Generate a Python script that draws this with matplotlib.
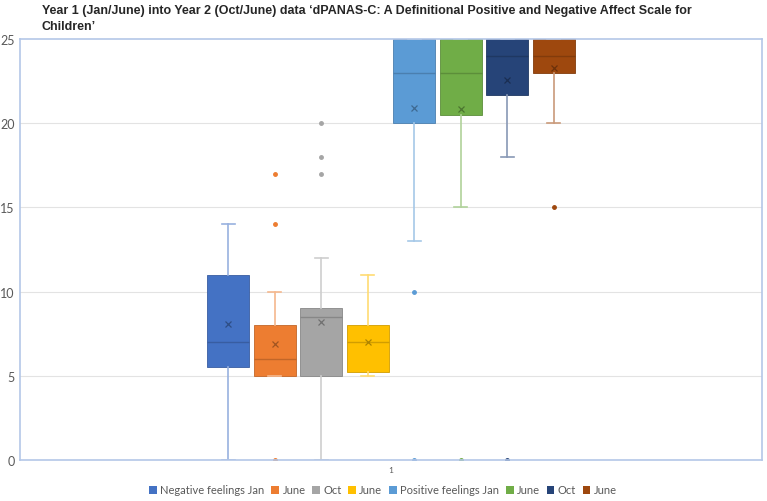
import matplotlib
matplotlib.use("Agg")
import matplotlib.pyplot as plt
from matplotlib.patches import Patch
import matplotlib.colors as mcolors

# ---- data ----
series = ["Negative feelings Jan", "June", "Oct", "June",
          "Positive feelings Jan", "June", "Oct", "June"]
colors = ["#4472C4", "#ED7D31", "#A5A5A5", "#FFC000",
          "#5B9BD5", "#70AD47", "#264478", "#9E480E"]
q1 = [5.5, 5.0, 5.0, 5.25, 20.0, 20.5, 21.7, 23.0]
med = [7.0, 6.0, 8.5, 7.0, 23.0, 23.0, 24.0, 24.0]
q3 = [11.0, 8.0, 9.0, 8.0, 25.0, 25.0, 25.0, 25.0]
whislo = [0.0, 5.0, 0.0, 5.0, 13.0, 15.0, 18.0, 20.0]
whishi = [14.0, 10.0, 12.0, 11.0, 25.0, 25.0, 25.0, 25.0]
means = [8.1, 6.9, 8.2, 7.0, 20.9, 20.85, 22.55, 23.25]
fliers = [[], [17, 14, 0], [20, 18, 17], [], [10, 0], [0], [0], [15]]
category = "1"
yticks = [0, 5, 10, 15, 20, 25]

W, H = 767, 502
fig = plt.figure(figsize=(W / 100, H / 100), dpi=100)
ax = fig.add_axes([20 / W, (H - 461) / H, 742 / W, 421 / H])

tick_font = "Lato"
gray = "#595959"

spacing = 46.5 / 742
bw = 42 / 742
n = len(series)
for i in range(n):
    pos = 1 + (i - (n - 1) / 2) * spacing
    c = colors[i]
    rgb = mcolors.to_rgb(c)
    light = tuple(1 - (1 - v) * 0.55 for v in rgb)
    dark = tuple(v * 0.82 for v in rgb)
    meanc = tuple(v * 0.68 for v in rgb)
    st = dict(q1=q1[i], med=med[i], q3=q3[i], whislo=whislo[i],
              whishi=whishi[i], mean=means[i], fliers=fliers[i], label=series[i])
    ax.bxp([st], positions=[pos], widths=bw, showmeans=True, patch_artist=True,
           capwidths=13 / 742,
           boxprops=dict(facecolor=c, edgecolor=dark, linewidth=0.6),
           medianprops=dict(color=dark, linewidth=1.0),
           whiskerprops=dict(color=light, linewidth=1.2),
           capprops=dict(color=light, linewidth=1.2),
           meanprops=dict(marker="x", markeredgecolor=meanc, markersize=5,
                          markeredgewidth=0.9),
           flierprops=dict(marker="o", markerfacecolor=c, markeredgecolor=c,
                           markersize=2.5))

ax.set_xlim(0.5, 1.5)
ax.set_ylim(0, 25)
ax.set_yticks(yticks)
ax.set_yticklabels([str(t) for t in yticks], fontsize=9, color=gray, family=tick_font)
ax.set_xticks([1])
ax.set_xticklabels([category], fontsize=6, color=gray, family=tick_font)
ax.tick_params(axis="both", length=0, pad=4)
for t in yticks[1:-1]:
    ax.axhline(t, color="#e3e3e3", linewidth=0.8, zorder=0)
for s in ax.spines.values():
    s.set_color("#b4c7e7")
    s.set_linewidth(1.2)

fig.text(42 / W, 1 - 5 / H,
         "Year 1 (Jan/June) into Year 2 (Oct/June) data \u2018dPANAS-C: A Definitional Positive and Negative Affect Scale for\nChildren\u2019",
         ha="left", va="top", fontsize=9, fontweight="bold", family="Liberation Sans",
         color="#262626", linespacing=1.5)

handles = [Patch(facecolor=c, edgecolor="none") for c in colors]
fig.legend(handles, series, loc="center", bbox_to_anchor=(383 / W, 1 - 491 / H),
           ncol=8, frameon=False, handlelength=0.7, handleheight=0.7,
           handletextpad=0.3, columnspacing=0.6, prop=dict(family=tick_font, size=8),
           labelcolor=gray)

fig.savefig("out.png", dpi=100)
